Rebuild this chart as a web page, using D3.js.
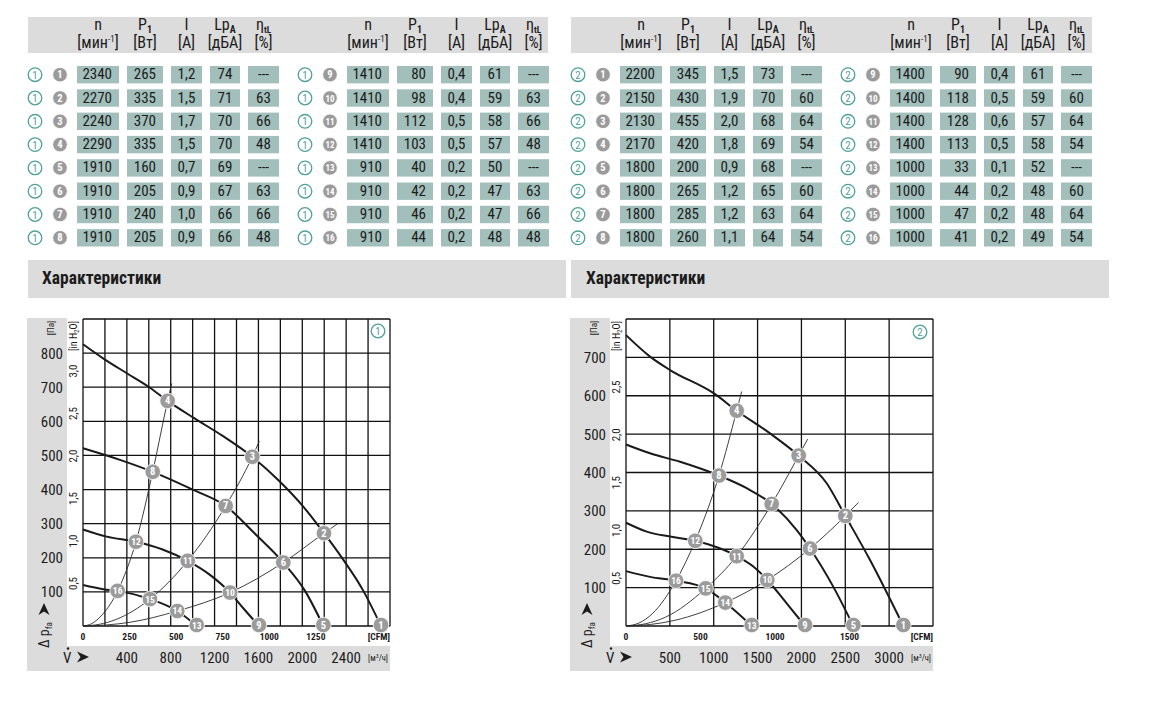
<!DOCTYPE html>
<html><head><meta charset="utf-8">
<script src="https://cdn.jsdelivr.net/npm/d3@7/dist/d3.min.js"></script>
<style>
body{margin:0;background:#fff}
svg text{font-family:"Liberation Sans Narrow","Arial Narrow","Roboto Condensed","Liberation Sans",sans-serif;fill:#1c1c1c}
</style></head><body>
<svg id="c" width="1151" height="711"></svg>
<script>
// ---------------- DATA ----------------
const tableHeaders = ["n","P","I","Lp","η"];
const tableHeaderSubs = ["","1","","A","tL"];
const tableUnits = ["[мин","[Вт]","[A]","[дБА]","[%]"];
const table1Rows = [
  ["2340","265","1,2","74","---"],["2270","335","1,5","71","63"],["2240","370","1,7","70","66"],["2290","335","1,5","70","48"],
  ["1910","160","0,7","69","---"],["1910","205","0,9","67","63"],["1910","240","1,0","66","66"],["1910","205","0,9","66","48"]];
const table2Rows = [
  ["1410","80","0,4","61","---"],["1410","98","0,4","59","63"],["1410","112","0,5","58","66"],["1410","103","0,5","57","48"],
  ["910","40","0,2","50","---"],["910","42","0,2","47","63"],["910","46","0,2","47","66"],["910","44","0,2","48","48"]];
const table3Rows = [
  ["2200","345","1,5","73","---"],["2150","430","1,9","70","60"],["2130","455","2,0","68","64"],["2170","420","1,8","69","54"],
  ["1800","200","0,9","68","---"],["1800","265","1,2","65","60"],["1800","285","1,2","63","64"],["1800","260","1,1","64","54"]];
const table4Rows = [
  ["1400","90","0,4","61","---"],["1400","118","0,5","59","60"],["1400","128","0,6","57","64"],["1400","113","0,5","58","54"],
  ["1000","33","0,1","52","---"],["1000","44","0,2","48","60"],["1000","47","0,2","48","64"],["1000","41","0,2","49","54"]];
const sectionTitle = "Характеристики";

// Chart 1 (x: m³/h, y: Pa)
const c1PaTicks = [100,200,300,400,500,600,700,800];
const c1InTicks = [0.5,1.0,1.5,2.0,2.5,3.0];
const c1M3Ticks = [400,800,1200,1600,2000,2400];
const c1CfmTicks = [0,250,500,750,1000,1250];
const c1Fan1 = [[0,826],[200,781],[400,741],[605,700],[772,660],[1010,610],[1270,558],[1544,496],[1790,425],[2009,350],[2198,272],[2359,201],[2557,103],[2718,0]];
const c1Fan2 = [[0,521],[337,487],[636,452],[1006,399],[1301,352],[1564,272],[1827,186],[2025,103],[2192,0]];
const c1Fan3 = [[0,283],[216,262],[483,247],[720,225],[955,191],[1158,150],[1341,98],[1462,52],[1605,0]];
const c1Fan4 = [[0,120],[185,108],[316,103],[611,79],[860,44],[1037,0]];
const c1SysA = [[0,0],[80,7],[155,26],[316,103],[483,247],[636,452],[772,660],[809,711]];
const c1SysB = [[0,0],[150,5],[300,19],[611,79],[955,191],[1301,352],[1544,496],[1608,542]];
const c1SysC = [[0,0],[215,3],[430,11],[860,44],[1341,98],[1827,186],[2198,272],[2328,301]];
const c1Points = [[1,2718,0],[2,2198,272],[3,1544,496],[4,772,660],[5,2192,0],[6,1827,186],[7,1301,352],[8,636,452],
  [9,1605,0],[10,1341,98],[11,955,191],[12,483,247],[13,1037,0],[14,860,44],[15,611,79],[16,316,103]];

// Chart 2
const c2PaTicks = [100,200,300,400,500,600,700];
const c2InTicks = [0.5,1.0,1.5,2.0,2.5];
const c2M3Ticks = [500,1000,1500,2000,2500,3000];
const c2CfmTicks = [0,500,1000,1500];
const c2Fan1 = [[0,758],[274,702],[502,667],[1003,606],[1262,561],[1642,502],[1969,444],[2288,372],[2500,287],[2782,172],[3162,0]];
const c2Fan2 = [[0,473],[274,450],[616,428],[1060,392],[1376,359],[1661,318],[1946,250],[2098,202],[2364,102],[2592,0]];
const c2Fan3 = [[0,269],[236,246],[502,233],[790,222],[1262,182],[1451,155],[1611,120],[1832,59],[2041,0]];
const c2Fan4 = [[0,143],[274,128],[570,118],[908,98],[1132,61],[1433,0]];
const c2SysA = [[0,0],[150,8],[300,32],[570,118],[790,222],[1060,392],[1262,561],[1319,611]];
const c2SysB = [[0,0],[225,6],[450,23],[908,98],[1262,182],[1661,318],[1969,444],[2071,487]];
const c2SysC = [[0,0],[280,4],[560,15],[1132,61],[1611,120],[2098,202],[2500,287],[2650,322]];
const c2Points = [[1,3162,0],[2,2500,287],[3,1969,444],[4,1262,561],[5,2592,0],[6,2098,202],[7,1661,318],[8,1060,392],
  [9,2041,0],[10,1611,120],[11,1262,182],[12,790,222],[13,1433,0],[14,1132,61],[15,908,98],[16,570,118]];

// ---------------- DRAW ----------------
const svg = d3.select("#c");
const BAND = "#dcdcdc", CELL = "#a2bfbb", TEAL = "#4fa199", GREY = "#9b9b9b";

function ring(g, cx, cy, label) {
  g.append("circle").attr("cx",cx).attr("cy",cy).attr("r",6.8).attr("fill","#fff").attr("stroke",TEAL).attr("stroke-width",1.3);
  g.append("text").attr("x",cx).attr("y",cy+4).attr("text-anchor","middle").style("font-size","11px").style("fill",TEAL).text(label);
}
function dot(g, cx, cy, label, fs, r) {
  g.append("circle").attr("cx",cx).attr("cy",cy).attr("r",r||7.3).attr("fill",GREY).attr("stroke","#fff").attr("stroke-width",0.8);
  g.append("text").attr("x",cx).attr("y",cy+3.5).attr("text-anchor","middle").style("font-size",(fs||10)+"px").style("font-weight","bold").style("fill","#fff").text(label);
}

// header bands
[[28,548],[571,1092]].forEach(([a,b]) => svg.append("rect").attr("x",a).attr("y",17).attr("width",b-a).attr("height",36).attr("fill",BAND));

const cellX = [[77,119,"end"],[127,163,"end"],[171,202,"middle"],[210,240,"middle"],[248,279,"middle"]];
function drawGroup(rows, dx, ringLabel, startNum) {
  const g = svg.append("g");
  cellX.forEach((c,j) => {
    const cx = dx + (c[0]+c[1])/2;
    const t = g.append("text").attr("x",cx).attr("y",30).attr("text-anchor","middle").style("font-size","16px").text(tableHeaders[j]);
    if (tableHeaderSubs[j]) t.append("tspan").attr("dy",3).style("font-size", j===4 ? "9px":"10px").style("font-weight","bold").text(tableHeaderSubs[j]);
    const u = g.append("text").attr("x",cx).attr("y",48).attr("text-anchor","middle").style("font-size","16px").text(tableUnits[j]);
    if (j===0) { u.append("tspan").attr("dy",-6).style("font-size","9px").text("-1"); u.append("tspan").attr("dy",6).text("]"); }
  });
  rows.forEach((r,i) => {
    const top = 66 + i*23.3, cy = top + 8.7;
    ring(g, dx+35, cy, ringLabel);
    dot(g, dx+60, cy, String(startNum+i), startNum+i>9 ? 9 : 10.5);
    r.forEach((v,j) => {
      const c = cellX[j];
      g.append("rect").attr("x",dx+c[0]).attr("y",top).attr("width",c[1]-c[0]).attr("height",17.4).attr("fill",CELL);
      const tx = c[2]==="end" ? dx+c[1]-7 : dx+(c[0]+c[1])/2;
      g.append("text").attr("x",tx).attr("y",top+13.2).attr("text-anchor",c[2]).style("font-size","15px").text(v);
    });
  });
}
drawGroup(table1Rows, 0, "1", 1);
drawGroup(table2Rows, 270, "1", 9);
drawGroup(table3Rows, 543, "2", 1);
drawGroup(table4Rows, 813, "2", 9);

// section bands
[[28,566,42],[571,1109,586]].forEach(([a,b,tx]) => {
  svg.append("rect").attr("x",a).attr("y",260).attr("width",b-a).attr("height",38).attr("fill",BAND);
  svg.append("text").attr("x",tx).attr("y",284).style("font-size","17.5px").style("font-weight","bold").text(sectionTitle);
});

const fmtIn = d => d3.format(".1f")(d).replace(".",",");
function arrowPath(g, x, y, rot) {
  g.append("path").attr("d","M0,-5.5 L12,0 L0,5.5 L3.5,0 Z").attr("fill","#1c1c1c")
    .attr("transform",`translate(${x},${y}) rotate(${rot})`);
}

function drawChart(cfg) {
  const {x0,x1,top,bot,xMax,yMax,xStep,yStep,gx,badge} = cfg;
  const g = svg.append("g");
  const x = d3.scaleLinear().domain([0,xMax]).range([x0,x1]);
  const y = d3.scaleLinear().domain([0,yMax]).range([bot,top]);
  const xc = d3.scaleLinear().domain([0,xMax/1.699]).range([x0,x1]);
  const yi = d3.scaleLinear().domain([0,yMax/249.09]).range([bot,top]);
  g.append("path").attr("d",`M${gx},318 H${gx+40} V646 H${x1} V671 H${gx} Z`).attr("fill",BAND);
  d3.range(0,xMax+1,xStep).forEach(v => g.append("line").attr("x1",x(v)).attr("x2",x(v)).attr("y1",top).attr("y2",bot).attr("stroke","#111").attr("stroke-width",1.3));
  d3.range(0,yMax+1,yStep).forEach(v => g.append("line").attr("x1",x0).attr("x2",x1).attr("y1",y(v)).attr("y2",y(v)).attr("stroke","#111").attr("stroke-width",1.3));
  cfg.pa.forEach(v => g.append("text").attr("x",gx+36).attr("y",y(v)+5.5).attr("text-anchor","end").style("font-size","15px").text(v));
  cfg.inch.forEach(v => g.append("text").attr("transform",`translate(${x0-6},${yi(v)}) rotate(-90)`).attr("text-anchor","middle").style("font-size","11px").text(fmtIn(v)));
  g.append("text").attr("transform",`translate(${gx+27},328) rotate(-90)`).attr("text-anchor","middle").style("font-size","9px").text("[Па]");
  const ih = g.append("text").attr("transform",`translate(${x0-6},336) rotate(-90)`).attr("text-anchor","middle").style("font-size","10px").text("[in H");
  ih.append("tspan").attr("dy",2).style("font-size","7px").text("2");
  ih.append("tspan").attr("dy",-2).text("O]");
  cfg.cfm.forEach(v => g.append("text").attr("x",xc(v)).attr("y",639.5).attr("text-anchor","middle").style("font-size","9.5px").style("font-weight","bold").text(v));
  g.append("text").attr("x",x1).attr("y",639.5).attr("text-anchor","end").style("font-size","9.5px").style("font-weight","bold").text("[CFM]");
  cfg.m3.forEach(v => g.append("text").attr("x",x(v)).attr("y",662.5).attr("text-anchor","middle").style("font-size","15px").text(v));
  const mu = g.append("text").attr("x",x1-2).attr("y",661).attr("text-anchor","end").style("font-size","8.5px").text("[м");
  mu.append("tspan").attr("dy",-3).style("font-size","6px").text("3");
  mu.append("tspan").attr("dy",3).text("/ч]");
  g.append("text").attr("x",gx+36).attr("y",662.5).style("font-size","15px").text("V");
  g.append("circle").attr("cx",gx+41).attr("cy",648.5).attr("r",1.2).attr("fill","#1c1c1c");
  arrowPath(g, gx+50, 657, 0);
  const dg = g.append("g").attr("transform",`translate(${gx+22},648) rotate(-90)`);
  const dt = dg.append("text").attr("x",0).attr("y",0).style("font-size","14px").text("Δ p");
  dt.append("tspan").attr("dy",3).style("font-size","9px").text("fa");
  arrowPath(dg, 33, -5, 0);
  ring(g, badge[0], badge[1], cfg.label);
  const line = d3.line().x(d=>x(d[0])).y(d=>y(d[1])).curve(d3.curveMonotoneX);
  cfg.sys.forEach(s => g.append("path").attr("d",line(s)).attr("fill","none").attr("stroke","#2a2a2a").attr("stroke-width",0.9));
  cfg.fans.forEach(s => g.append("path").attr("d",line(s)).attr("fill","none").attr("stroke","#1a1a1a").attr("stroke-width",2));
  cfg.points.forEach(p => dot(g, x(p[1]), Math.min(y(p[2]), bot-1), String(p[0]), p[0]>9 ? 9.5 : 10.5, 7.8));
}

drawChart({x0:83,x1:390,top:319,bot:626,xMax:2800,yMax:900,xStep:200,yStep:100,gx:27,badge:[378,331],label:"1",
  pa:c1PaTicks,inch:c1InTicks,cfm:c1CfmTicks,m3:c1M3Ticks,fans:[c1Fan1,c1Fan2,c1Fan3,c1Fan4],sys:[c1SysA,c1SysB,c1SysC],points:c1Points});
drawChart({x0:626,x1:933,top:319,bot:626,xMax:3500,yMax:800,xStep:500,yStep:100,gx:570,badge:[920,332],label:"2",
  pa:c2PaTicks,inch:c2InTicks,cfm:c2CfmTicks,m3:c2M3Ticks,fans:[c2Fan1,c2Fan2,c2Fan3,c2Fan4],sys:[c2SysA,c2SysB,c2SysC],points:c2Points});
</script></body></html>
